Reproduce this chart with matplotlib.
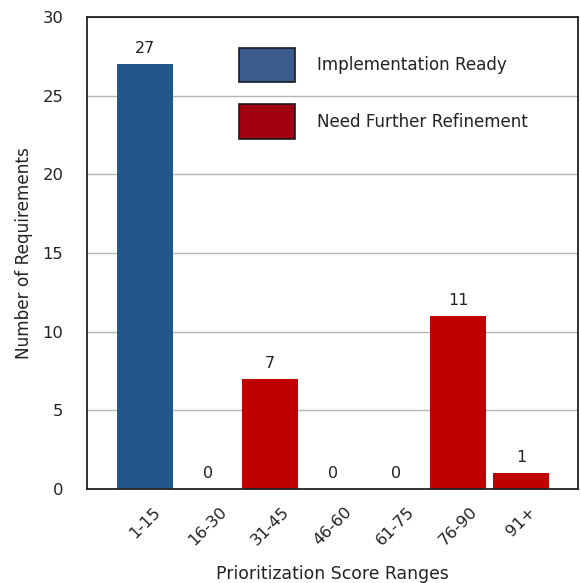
import matplotlib
matplotlib.use("Agg")
import matplotlib.pyplot as plt
from matplotlib.patches import Patch

# données
categories = ["1-15", "16-30", "31-45", "46-60", "61-75", "76-90", "91+"]
counts = [27, 0, 7, 0, 0, 11, 1]
ready = [True, False, False, False, False, False, False]
legend_labels = ["Implementation Ready", "Need Further Refinement"]

blue = "#23568b"
red = "#c00000"

plt.rcParams["font.family"] = ["DejaVu Sans"]

fig = plt.figure(figsize=(5.81, 5.83), dpi=100)
ax = fig.add_axes([0.1497, 0.1612, 0.8451, 0.8096])

x = list(range(len(categories)))
colors = [blue if r else red for r in ready]
bars = ax.bar(x, counts, width=0.9, color=colors, zorder=2)

for rect, v in zip(bars, counts):
    ax.annotate(str(v), (rect.get_x() + rect.get_width() / 2, v),
                xytext=(0, 6), textcoords="offset points",
                ha="center", va="bottom", fontsize=11.5, color="#222222")

ax.set_xlim(-0.925, 6.91)
ax.set_ylim(0, 30)
ax.set_yticks([0, 5, 10, 15, 20, 25, 30])
ax.set_xticks(x)
ax.set_xticklabels(categories, rotation=45, ha="center")
ax.tick_params(axis="both", length=0, labelsize=11.8, labelcolor="#222222")
ax.tick_params(axis="y", pad=17)
ax.tick_params(axis="x", pad=11)

ax.yaxis.grid(True, color="#b5b5b5", linewidth=1, zorder=0)
ax.set_axisbelow(True)
for s in ax.spines.values():
    s.set_linewidth(1.3)
    s.set_color("#222222")

ax.set_xlabel("Prioritization Score Ranges", fontsize=12.4, color="#222222", labelpad=12)
ax.set_ylabel("Number of Requirements", fontsize=12.2, color="#222222", labelpad=7)

handles = [Patch(facecolor="#3a5b8c", edgecolor="#1a1a22", linewidth=1.2),
           Patch(facecolor="#a0000f", edgecolor="#1a1a22", linewidth=1.2)]
ax.legend(handles, legend_labels, loc="upper left", bbox_to_anchor=(0.31, 0.935),
          frameon=False, borderpad=0, borderaxespad=0, fontsize=12.1,
          handlelength=3.3, handleheight=2.8, handletextpad=1.35, labelspacing=1.3,
          labelcolor="#222222")

fig.savefig("out.png", dpi=100)
